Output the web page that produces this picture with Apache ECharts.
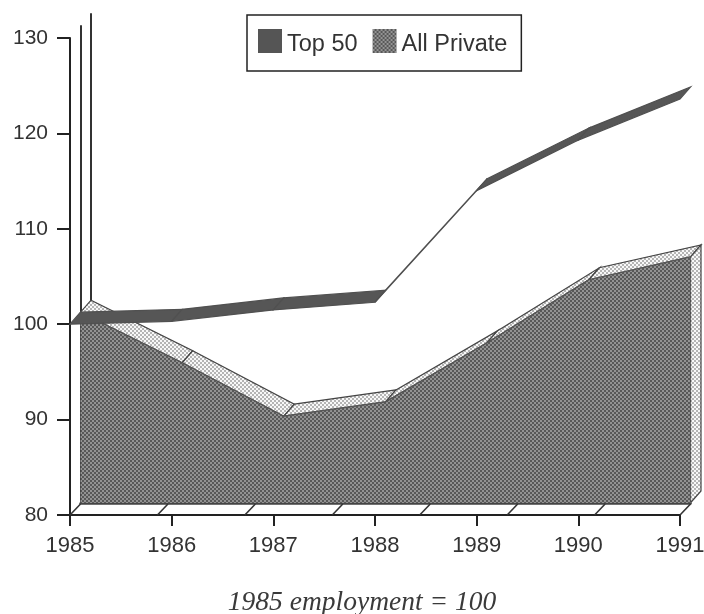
<!DOCTYPE html>
<html><head><meta charset="utf-8">
<style>html,body{margin:0;padding:0;background:#fff}#c{width:704px;height:614px;filter:blur(0.5px)}</style>
<script src="https://cdn.jsdelivr.net/npm/echarts@6/dist/echarts.min.js"></script>
</head><body><div id="c"></div>
<script>
var years = [1985, 1986, 1987, 1988, 1989, 1990, 1991];
var top50 = [100, 100.3, 101.5, 102.3, 114, 119.3, 123.6];
var allPrivate = [100, 94.7, 89.1, 90.6, 96.8, 103.4, 105.8];
var floorMarks = [1985, 1985.86, 1986.72, 1987.58, 1988.44, 1989.3, 1990.16, 1991];
var yTicks = [80, 90, 100, 110, 120, 130];
var seriesNames = ['Top 50', 'All Private'];
var note = '1985 employment = 100';

function stipple(bg, dot) {
  var c = document.createElement('canvas'); c.width = 4; c.height = 4;
  var g = c.getContext('2d');
  g.fillStyle = bg; g.fillRect(0, 0, 4, 4);
  g.fillStyle = dot; g.fillRect(0, 0, 2, 2); g.fillRect(2, 2, 2, 2);
  return { image: c, repeat: 'repeat' };
}
var darkFill = stipple('#585858', '#939393');
var lightFill = stipple('#b4b4b4', '#f8f8f8');
var D = { x: 10.5, y: -12 };
var font = '"Liberation Sans", Arial, sans-serif';

function ribbon(xs, ys, fill, stroke, capBase) {
  return function (params, api) {
    var i = params.dataIndex;
    if (i >= xs.length - 1) {
      if (capBase == null) return null;
      var a = api.coord([xs[i], ys[i]]), b = api.coord([xs[i], capBase]);
      return { type: 'polygon', shape: { points: [a, [a[0] + D.x, a[1] + D.y], [b[0] + D.x, b[1] + D.y], b] },
        style: { fill: fill, stroke: stroke, lineWidth: 1.2 } };
    }
    var p = api.coord([xs[i], ys[i]]), q = api.coord([xs[i + 1], ys[i + 1]]);
    return { type: 'polygon', shape: { points: [p, q, [q[0] + D.x, q[1] + D.y], [p[0] + D.x, p[1] + D.y]] },
      style: { fill: fill, stroke: stroke, lineWidth: 1.2 } };
  };
}
function hiddenX(i, showLine) {
  return { type: 'value', gridIndex: i, min: 1985, max: 1991, interval: 1,
    axisLine: { show: showLine, onZero: false, lineStyle: { color: '#444', width: 2.5 } },
    axisTick: { show: false }, axisLabel: { show: false }, splitLine: { show: false } };
}
function hiddenY(i) {
  return { type: 'value', gridIndex: i, min: 80, max: 130, interval: 10,
    axisLine: { show: true, onZero: false, lineStyle: { color: '#333', width: 2 } },
    axisTick: { show: false }, axisLabel: { show: false }, splitLine: { show: false } };
}
var chart = echarts.init(document.getElementById('c'), null, { renderer: 'canvas' });
chart.setOption({
  animation: false,
  backgroundColor: '#fff',
  title: { text: note, left: 362, top: 589, padding: 0, textAlign: 'center',
    textStyle: { fontFamily: '"Liberation Serif", serif', fontStyle: 'italic', fontWeight: 'normal', fontSize: 27.5, color: '#3a3a3a' } },
  legend: { data: seriesNames, left: 247, top: 15, padding: [14, 14, 14, 11], icon: 'rect',
    itemWidth: 24, itemHeight: 24, itemGap: 15, borderColor: '#222', borderWidth: 1.5, backgroundColor: '#fff',
    formatter: '{a|{name}}',
    textStyle: { fontFamily: font, fontSize: 23.5, color: '#333',
      rich: { a: { fontFamily: font, fontSize: 23.5, color: '#333', padding: [8, 0, 0, 0] } } } },
  grid: [
    { left: 70, top: 38, width: 610, height: 477, outerBoundsMode: 'none' },
    { left: 80.5, top: 26, width: 610, height: 477, outerBoundsMode: 'none' },
    { left: 91, top: 14, width: 610, height: 477, outerBoundsMode: 'none' }
  ],
  xAxis: [
    { type: 'value', gridIndex: 0, min: 1985, max: 1991, interval: 1,
      axisLine: { show: true, onZero: false, lineStyle: { color: '#222', width: 2 } },
      axisTick: { show: true, length: 11, lineStyle: { color: '#222', width: 2 } },
      axisLabel: { margin: 20, fontFamily: font, fontSize: 22, color: '#333', formatter: function (v) { return String(v); } },
      splitLine: { show: false } },
    hiddenX(1, true), hiddenX(2, false)
  ],
  yAxis: [
    { type: 'value', gridIndex: 0, min: 80, max: 130, interval: 10,
      axisLine: { show: true, onZero: false, lineStyle: { color: '#222', width: 2 } },
      axisTick: { show: true, length: 13, lineStyle: { color: '#222', width: 2 } },
      axisLabel: { margin: 22, fontFamily: font, fontSize: 21, color: '#333' },
      splitLine: { show: false } },
    hiddenY(1), hiddenY(2)
  ],
  series: [
    { name: 'Floor', type: 'custom', xAxisIndex: 0, yAxisIndex: 0, silent: true, z: 2,
      data: floorMarks.map(function (v) { return [v, 80]; }),
      renderItem: function (params, api) {
        var p = api.coord([api.value(0), api.value(1)]);
        return { type: 'line', shape: { x1: p[0], y1: p[1], x2: p[0] + D.x, y2: p[1] - 11 },
          style: { stroke: '#333', lineWidth: 1.6 } };
      } },
    { name: 'All Private', type: 'custom', xAxisIndex: 1, yAxisIndex: 1, silent: true, z: 3,
      itemStyle: { color: darkFill },
      data: years.map(function (y, i) { return [y, allPrivate[i]]; }),
      renderItem: ribbon(years, allPrivate, lightFill, '#444', 80) },
    { name: 'All Private front', type: 'line', xAxisIndex: 1, yAxisIndex: 1, silent: true, z: 4,
      data: years.map(function (y, i) { return [y, allPrivate[i]]; }),
      showSymbol: false, lineStyle: { color: '#555', width: 1.2 },
      areaStyle: { color: darkFill, opacity: 1 } },
    { name: 'Top 50', type: 'custom', xAxisIndex: 0, yAxisIndex: 0, silent: true, z: 5,
      itemStyle: { color: '#555' },
      data: years.map(function (y, i) { return [y, top50[i]]; }),
      renderItem: ribbon(years, top50, '#565656', '#505050') }
  ]
});
</script></body></html>
